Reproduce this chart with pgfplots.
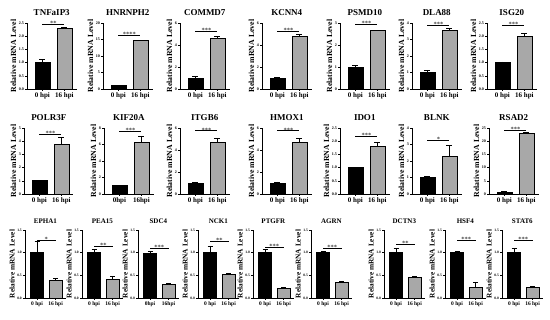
\documentclass[border=0pt]{standalone}
\usepackage{fontspec}
\setmainfont{Liberation Serif}
\usepackage{pgfplots}
\pgfplotsset{compat=1.18}
\definecolor{bargray}{HTML}{A8A8A8}
\pgfplotsset{
 every axis title shift=0pt,
 base/.style={
  scale only axis, anchor=south west, clip=false,
  axis lines=left, axis line style={-, line width=0.6pt},
  ymin=0, xtick={0,1},
  tick align=outside, major tick length=2pt, tick style={line width=0.5pt, black},
  /pgf/number format/assume math mode=true,
  ylabel={Relative mRNA Level},
  title style={anchor=base, at={(0.5,1)}, inner sep=0pt},
  error bars/error bar style={line width=0.5pt},
  error bars/error mark options={rotate=90, mark size=3pt, line width=0.5pt},
 },
 r12/.style={base, xmin=-0.7, xmax=1.55, width=49.5pt, height=66pt, bar width=15pt,
  title style={font=\bfseries\fontsize{9}{9}\selectfont, yshift=7.5pt},
  ylabel style={font=\bfseries\fontsize{7.8}{8}\selectfont, yshift=-2pt},
  yticklabel style={font=\bfseries\fontsize{4}{4}\selectfont, inner sep=1pt},
  xticklabel style={font=\bfseries\fontsize{7}{7}\selectfont, inner sep=1.5pt},
  xticklabels={0 hpi,16 hpi}},
 r3/.style={base, xmin=-0.65, xmax=1.55, width=40.7pt, height=68pt, bar width=13pt,
  title style={font=\bfseries\fontsize{7}{7}\selectfont, yshift=6.5pt},
  ylabel style={font=\bfseries\fontsize{7.3}{7.5}\selectfont, yshift=-2pt},
  yticklabel style={font=\bfseries\fontsize{3.6}{4}\selectfont, inner sep=1pt},
  xticklabel style={font=\bfseries\fontsize{5.5}{6}\selectfont, inner sep=1.5pt},
  xticklabels={0 hpi,16 hpi},
  ytick={0,0.5,1,1.5}, ymax=1.5, dec,
  error bars/error mark options={rotate=90, mark size=2.5pt, line width=0.5pt}},
 dec/.style={yticklabel style={/pgf/number format/.cd, fixed, fixed zerofill, precision=1}},
}
\newcommand{\bars}[6]{%
 \addplot[ybar, bar shift=0pt, fill=black, draw=black, line width=0.6pt,
   error bars/.cd, y dir=plus, y explicit] coordinates {(0,#1) +- (0,#2)};
 \addplot[ybar, bar shift=0pt, fill=bargray, draw=black, line width=0.6pt,
   error bars/.cd, y dir=plus, y explicit] coordinates {(1,#3) +- (0,#4)};
 \addplot[black, line width=0.5pt, mark=none] coordinates {(0,#5) (1,#5)};
 \node[anchor=base, inner sep=0pt, yshift=-1.3pt, font=\fontsize{6.5}{6.5}\selectfont] at (axis cs:0.5,#5) {#6};
}
\begin{document}
\begin{tikzpicture}
\useasboundingbox (0,0) rectangle (550pt,320pt);
% Row 1
\begin{axis}[r12, at={(27pt,231pt)}, title={TNFaIP3}, ymax=2.5, ytick={0,0.5,1,1.5,2,2.5}, dec]
\bars{1.0}{0.13}{2.3}{0.05}{2.45}{**}
\end{axis}
\begin{axis}[r12, at={(103pt,231pt)}, title={HNRNPH2}, ymax=20, ytick={0,5,10,15,20}]
\bars{1.0}{0.1}{14.7}{0.1}{16.4}{****}
\end{axis}
\begin{axis}[r12, at={(180pt,231pt)}, title={COMMD7}, ymax=6, ytick={0,2,4,6}]
\bars{1.0}{0.15}{4.6}{0.15}{5.27}{***}
\end{axis}
\begin{axis}[r12, at={(262pt,231pt)}, title={KCNN4}, ymax=6, ytick={0,2,4,6}]
\bars{1.0}{0.06}{4.8}{0.15}{5.27}{***}
\end{axis}
\begin{axis}[r12, at={(340pt,231pt)}, title={PSMD10}, ymax=3, ytick={0,1,2,3}]
\bars{1.0}{0.07}{2.67}{0.02}{2.95}{***}
\end{axis}
\begin{axis}[r12, at={(412pt,231pt)}, title={DLA88}, ymax=4, ytick={0,1,2,3,4}]
\bars{1.0}{0.13}{3.55}{0.15}{3.84}{***}
\end{axis}
\begin{axis}[r12, at={(487pt,231pt)}, title={ISG20}, ymax=2.5, ytick={0,0.5,1,1.5,2,2.5}, dec]
\bars{1.0}{0.03}{2.0}{0.1}{2.42}{***}
\end{axis}
% Row 2
\begin{axis}[r12, at={(24pt,126pt)}, title={POLR3F}, ymax=5, ytick={0,1,2,3,4,5}]
\bars{1.0}{0.05}{3.8}{0.5}{4.52}{***}
\end{axis}
\begin{axis}[r12, at={(104pt,126pt)}, title={KIF20A}, ymax=8, ytick={0,2,4,6,8}, xticklabels={0hpi,16hpi}]
\bars{1.0}{0.05}{6.3}{0.75}{7.6}{***}
\end{axis}
\begin{axis}[r12, at={(180pt,126pt)}, title={ITGB6}, ymax=6, ytick={0,2,4,6}]
\bars{1.0}{0.1}{4.7}{0.4}{5.75}{***}
\end{axis}
\begin{axis}[r12, at={(262pt,126pt)}, title={HMOX1}, ymax=6, ytick={0,2,4,6}]
\bars{1.0}{0.1}{4.7}{0.4}{5.75}{***}
\end{axis}
\begin{axis}[r12, at={(340pt,126pt)}, title={IDO1}, ymax=2.5, ytick={0,0.5,1,1.5,2,2.5}, dec]
\bars{1.0}{0.01}{1.8}{0.15}{2.2}{***}
\end{axis}
\begin{axis}[r12, at={(412pt,126pt)}, title={BLNK}, ymax=4, ytick={0,1,2,3,4}]
\bars{1.0}{0.05}{2.3}{0.65}{3.26}{*}
\end{axis}
\begin{axis}[r12, at={(489pt,126pt)}, title={RSAD2}, ymax=25, ytick={0,5,10,15,20,25}]
\bars{0.8}{0.1}{23}{0.2}{24}{***}
\end{axis}
% Row 3
\begin{axis}[r3, at={(25pt,22pt)}, title={EPHA1}]
\bars{1.0}{0.25}{0.4}{0.04}{1.28}{*}
\end{axis}
\begin{axis}[r3, at={(82pt,22pt)}, title={PEA15}]
\bars{1.0}{0.08}{0.42}{0.07}{1.14}{**}
\end{axis}
\begin{axis}[r3, at={(138pt,22pt)}, title={SDC4}, xticklabels={0hpi,16hpi}]
\bars{0.98}{0.05}{0.3}{0.02}{1.09}{***}
\end{axis}
\begin{axis}[r3, at={(198pt,22pt)}, title={NCK1}]
\bars{1.0}{0.15}{0.53}{0.02}{1.26}{**}
\end{axis}
\begin{axis}[r3, at={(253pt,22pt)}, title={PTGFR}]
\bars{1.0}{0.07}{0.22}{0.01}{1.11}{***}
\end{axis}
\begin{axis}[r3, at={(311pt,22pt)}, title={AGRN}]
\bars{1.0}{0.03}{0.35}{0.02}{1.09}{***}
\end{axis}
\begin{axis}[r3, at={(384pt,22pt)}, title={DCTN3}]
\bars{1.0}{0.1}{0.45}{0.02}{1.18}{**}
\end{axis}
\begin{axis}[r3, at={(445pt,22pt)}, title={HSF4}]
\bars{1.0}{0.03}{0.24}{0.1}{1.28}{***}
\end{axis}
\begin{axis}[r3, at={(502pt,22pt)}, title={STAT6}]
\bars{1.0}{0.1}{0.24}{0.02}{1.28}{***}
\end{axis}
\end{tikzpicture}
\end{document}
